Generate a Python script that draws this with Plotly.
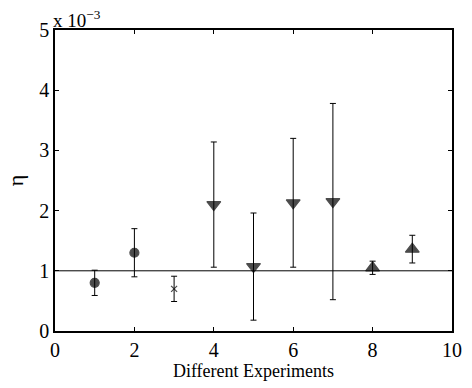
import plotly.graph_objects as go

experiments = [1, 2, 3, 4, 5, 6, 7, 8, 9]
eta = [0.80, 1.30, 0.70, 2.10, 1.07, 2.13, 2.15, 1.05, 1.36]  # x 1e-3
err = [0.21, 0.40, 0.21, 1.04, 0.89, 1.07, 1.63, 0.11, 0.23]
symbols = ["circle", "circle", "x-thin", "triangle-down", "triangle-down",
           "triangle-down", "triangle-down", "triangle-up", "triangle-up"]
sizes = [9, 9, 6, 12, 12, 12, 12, 12, 12]
reference_eta = 1.0
x_ticks = [0, 2, 4, 6, 8, 10]
y_ticks = [0, 1, 2, 3, 4, 5]

font = "Liberation Serif"

fig = go.Figure()
fig.add_trace(go.Scatter(
    x=experiments, y=eta, mode="markers",
    marker=dict(symbol=symbols, size=sizes, color="black",
                line=dict(color="black", width=1.2)),
    error_y=dict(type="data", array=err, visible=True, color="black",
                 thickness=1, width=3),
    showlegend=False,
))
fig.add_shape(type="line", xref="paper", yref="y", x0=0, x1=1,
              y0=reference_eta, y1=reference_eta,
              line=dict(color="black", width=1))

axis_common = dict(showline=True, linecolor="black", linewidth=1.5, mirror="ticks",
                   ticks="inside", ticklen=4, tickcolor="black", showgrid=False,
                   zeroline=False, automargin=False,
                   tickfont=dict(family=font, size=20, color="black"))
fig.update_xaxes(range=[0, 10], tickvals=x_ticks, **axis_common,
                 title=dict(text="Different Experiments", standoff=0,
                            font=dict(family=font, size=18, color="black")))
fig.update_yaxes(range=[0, 5], tickvals=y_ticks, **axis_common,
                 title=dict(text="η", standoff=10,
                            font=dict(family=font, size=22, color="black")))
fig.add_annotation(xref="paper", yref="paper", x=0, y=1, xanchor="left", yanchor="bottom",
                   text="x 10<sup>−3</sup>", showarrow=False, yshift=-3, xshift=-4,
                   font=dict(family=font, size=19, color="black"))
fig.update_layout(width=472, height=388, margin=dict(l=55, r=20, t=30, b=57),
                  plot_bgcolor="white", paper_bgcolor="white",
                  font=dict(family=font, color="black"))
fig.write_html("out.html", config={"displayModeBar": False},
               post_script="document.body.style.margin='0';document.body.style.overflow='hidden';")
